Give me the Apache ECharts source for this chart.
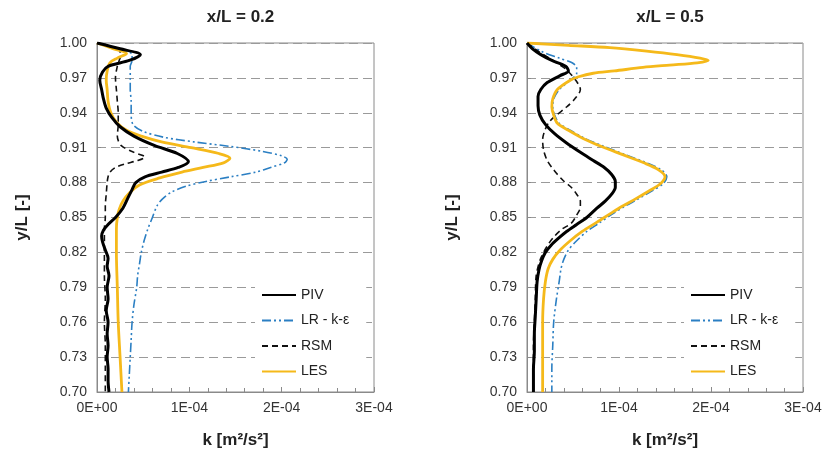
<!DOCTYPE html>
<html>
<head>
<meta charset="utf-8">
<script src="https://cdn.jsdelivr.net/npm/echarts@6/dist/echarts.min.js"></script>
<style>html,body{margin:0;padding:0;background:#fff}#c{width:827px;height:456px}</style>
</head>
<body>
<div id="c"></div>
<script>
// Titles, series names, ticks
const panelTitles = ['x/L = 0.2', 'x/L = 0.5'];
const seriesNames = ['PIV', 'LR - k-\u03b5', 'RSM', 'LES'];
const xTickLabels = ['0E+00', '1E-04', '2E-04', '3E-04']; // k, axis values in units of 1E-04 m²/s²
const yTicks = [0.70, 0.73, 0.76, 0.79, 0.82, 0.85, 0.88, 0.91, 0.94, 0.97, 1.00];

// ---- x/L = 0.2 (k in 1E-04 m²/s²) ----
const piv02_y = [1.000,0.995,0.990,0.985,0.980,0.975,0.968,0.960,0.952,0.944,0.936,0.928,0.920,0.912,0.905,0.898,0.893,0.889,0.885,0.880,0.874,0.866,0.858,0.850,0.844,0.839,0.834,0.829,0.822,0.815,0.808,0.800,0.790,0.780,0.770,0.760,0.750,0.740,0.730,0.720,0.710,0.700];
const piv02_k = [0.00,0.25,0.47,0.35,0.12,0.06,0.03,0.05,0.07,0.10,0.16,0.25,0.40,0.62,0.87,0.99,0.88,0.70,0.52,0.42,0.38,0.33,0.28,0.20,0.12,0.07,0.05,0.06,0.09,0.12,0.11,0.13,0.11,0.12,0.10,0.12,0.11,0.12,0.11,0.12,0.12,0.13];

const lr02_y = [1.000,0.995,0.990,0.985,0.980,0.970,0.960,0.950,0.940,0.930,0.924,0.919,0.915,0.911,0.907,0.903,0.900,0.897,0.893,0.889,0.885,0.881,0.877,0.872,0.866,0.860,0.850,0.840,0.830,0.820,0.810,0.800,0.790,0.775,0.760,0.745,0.730,0.715,0.700];
const lr02_k = [0.00,0.25,0.38,0.38,0.36,0.36,0.36,0.37,0.37,0.39,0.50,0.72,1.05,1.45,1.78,2.00,2.06,2.03,1.88,1.72,1.45,1.18,0.97,0.81,0.71,0.65,0.60,0.55,0.51,0.48,0.46,0.44,0.43,0.40,0.38,0.37,0.36,0.35,0.34];

const rsm02_y = [1.000,0.995,0.990,0.985,0.980,0.970,0.960,0.950,0.940,0.930,0.920,0.912,0.906,0.902,0.899,0.896,0.893,0.889,0.885,0.880,0.870,0.860,0.850,0.840,0.820,0.800,0.780,0.760,0.740,0.720,0.700];
const rsm02_k = [0.00,0.22,0.26,0.24,0.22,0.20,0.21,0.22,0.23,0.23,0.22,0.26,0.40,0.52,0.44,0.30,0.20,0.14,0.12,0.11,0.10,0.09,0.09,0.08,0.08,0.08,0.09,0.08,0.09,0.09,0.09];

const les02_y = [1.000,0.995,0.991,0.987,0.983,0.976,0.968,0.960,0.950,0.940,0.932,0.925,0.920,0.915,0.910,0.905,0.901,0.897,0.893,0.889,0.884,0.878,0.871,0.864,0.857,0.850,0.840,0.820,0.790,0.760,0.730,0.700];
const les02_k = [0.00,0.18,0.32,0.22,0.14,0.11,0.10,0.11,0.12,0.15,0.21,0.32,0.48,0.70,1.02,1.32,1.44,1.37,1.15,0.92,0.68,0.46,0.35,0.28,0.24,0.22,0.21,0.21,0.22,0.23,0.25,0.27];

// ---- x/L = 0.5 (k in 1E-04 m²/s²) ----
const piv05_y = [1.000,0.995,0.990,0.985,0.980,0.976,0.972,0.966,0.960,0.954,0.946,0.938,0.930,0.922,0.914,0.906,0.899,0.893,0.887,0.881,0.876,0.870,0.864,0.858,0.850,0.844,0.838,0.832,0.826,0.820,0.813,0.805,0.795,0.780,0.765,0.750,0.735,0.720,0.700];
const piv05_k = [0.00,0.06,0.15,0.27,0.42,0.45,0.36,0.22,0.15,0.12,0.12,0.14,0.20,0.30,0.43,0.58,0.72,0.84,0.92,0.96,0.96,0.92,0.85,0.76,0.65,0.54,0.43,0.34,0.26,0.20,0.16,0.13,0.11,0.10,0.09,0.08,0.08,0.07,0.07];

const lr05_y = [1.000,0.993,0.987,0.983,0.979,0.974,0.968,0.960,0.952,0.945,0.938,0.931,0.925,0.918,0.911,0.904,0.897,0.891,0.885,0.879,0.873,0.866,0.859,0.852,0.845,0.838,0.830,0.822,0.814,0.806,0.795,0.780,0.760,0.740,0.720,0.700];
const lr05_k = [0.00,0.15,0.35,0.49,0.54,0.54,0.47,0.35,0.29,0.28,0.30,0.35,0.47,0.63,0.84,1.07,1.30,1.46,1.52,1.48,1.36,1.21,1.05,0.91,0.78,0.65,0.54,0.45,0.40,0.37,0.35,0.32,0.29,0.28,0.27,0.27];

const rsm05_y = [1.000,0.993,0.986,0.980,0.977,0.968,0.960,0.952,0.945,0.938,0.932,0.924,0.917,0.908,0.899,0.890,0.882,0.876,0.870,0.864,0.859,0.852,0.845,0.840,0.834,0.828,0.820,0.813,0.800,0.780,0.760,0.740,0.720,0.700];
const rsm05_k = [0.00,0.12,0.26,0.38,0.43,0.53,0.58,0.52,0.43,0.32,0.24,0.19,0.17,0.18,0.22,0.30,0.39,0.48,0.54,0.58,0.58,0.54,0.48,0.38,0.30,0.24,0.18,0.14,0.10,0.09,0.08,0.07,0.07,0.07];

const les05_y = [1.000,0.998,0.996,0.993,0.990,0.987,0.985,0.983,0.981,0.979,0.976,0.974,0.971,0.968,0.960,0.952,0.945,0.938,0.931,0.925,0.918,0.911,0.904,0.897,0.891,0.885,0.879,0.873,0.866,0.859,0.852,0.845,0.838,0.830,0.822,0.814,0.806,0.795,0.780,0.760,0.740,0.720,0.700];
const les05_k = [0.00,0.45,0.90,1.30,1.63,1.88,1.97,1.85,1.55,1.26,0.95,0.72,0.56,0.47,0.33,0.28,0.27,0.29,0.33,0.45,0.61,0.81,1.04,1.27,1.43,1.50,1.45,1.33,1.18,1.02,0.88,0.74,0.60,0.47,0.36,0.28,0.23,0.20,0.18,0.17,0.17,0.17,0.17];

const pair = (k, y) => k.map((v, i) => [v, y[i]]);

const styles = [
  { color: '#000000', width: 3, type: 'solid' },
  { color: '#2b7fc3', width: 1.6, type: [9, 3, 2, 3, 2, 3] },
  { color: '#111111', width: 1.6, type: [6, 4] },
  { color: '#f5b91a', width: 2.8, type: 'solid' }
];
const panels = [
  [pair(piv02_k, piv02_y), pair(lr02_k, lr02_y), pair(rsm02_k, rsm02_y), pair(les02_k, les02_y)],
  [pair(piv05_k, piv05_y), pair(lr05_k, lr05_y), pair(rsm05_k, rsm05_y), pair(les05_k, les05_y)]
];
const zOrder = [4, 1, 2, 3];

const grids = [
  { left: 97, top: 43, width: 277, height: 349 },
  { left: 527, top: 43, width: 276, height: 349 }
];
const font = 'Liberation Sans, Arial, sans-serif';

const option = {
  animation: false,
  backgroundColor: '#fff',
  title: panelTitles.map((t, i) => ({
    text: t, left: grids[i].left + grids[i].width / 2, top: 4, textAlign: 'center',
    textStyle: { fontFamily: font, fontSize: 17, fontWeight: 'bold', color: '#222' }
  })),
  grid: grids.map(g => Object.assign({ show: true, borderColor: '#8a8a8a', borderWidth: 1, backgroundColor: 'transparent' }, g)),
  legend: [0, 1].map(i => ({
    left: i === 0 ? 255 : 684, top: 282, orient: 'vertical',
    backgroundColor: '#fff', padding: [6, 17, 6, 6],
    itemWidth: 34, itemHeight: 14, itemGap: 11.5,
    itemStyle: { opacity: 0, borderWidth: 0 },
    textStyle: { fontFamily: font, fontSize: 14, color: '#222' },
    data: seriesNames
  })),
  xAxis: [0, 1].map(i => ({
    type: 'value', gridIndex: i, min: 0, max: 3, interval: 1,
    name: 'k [m\u00b2/s\u00b2]', nameLocation: 'middle', nameGap: 40,
    nameTextStyle: { fontFamily: font, fontSize: 17, fontWeight: 'bold', color: '#222' },
    axisLine: { show: true, lineStyle: { color: '#8a8a8a' } },
    axisTick: { show: true, inside: true, length: 5, lineStyle: { color: '#8a8a8a' } },
    minorTick: { show: true, splitNumber: 5, length: 4, lineStyle: { color: '#8a8a8a' } },
    splitLine: { show: false },
    axisLabel: { fontFamily: font, fontSize: 14, color: '#333', margin: 9,
      formatter: v => xTickLabels[Math.round(v)] }
  })),
  yAxis: [0, 1].map(i => ({
    type: 'value', gridIndex: i, min: yTicks[0], max: yTicks[yTicks.length - 1], interval: 0.03,
    name: 'y/L [-]', nameLocation: 'middle', nameGap: 66,
    nameTextStyle: { fontFamily: font, fontSize: 17, fontWeight: 'bold', color: '#222' },
    axisLine: { show: true, lineStyle: { color: '#8a8a8a' } },
    axisTick: { show: true, inside: true, length: 4, lineStyle: { color: '#8a8a8a' } },
    splitLine: { show: true, lineStyle: { color: '#9a9a9a', type: [9, 5], width: 1.2 } },
    axisLabel: { fontFamily: font, fontSize: 14, color: '#333', margin: 10,
      formatter: v => v.toFixed(2) }
  })),
  series: []
};
panels.forEach((p, pi) => {
  p.forEach((d, si) => {
    option.series.push({
      type: 'line', name: seriesNames[si], xAxisIndex: pi, yAxisIndex: pi,
      data: d, showSymbol: false, symbol: 'none', smooth: 0.3, z: zOrder[si] + 2,
      lineStyle: { color: styles[si].color, width: styles[si].width, type: styles[si].type },
      itemStyle: { color: styles[si].color }
    });
  });
});
const chart = echarts.init(document.getElementById('c'), null, { renderer: 'canvas' });
chart.setOption(option);
</script>
</body>
</html>
